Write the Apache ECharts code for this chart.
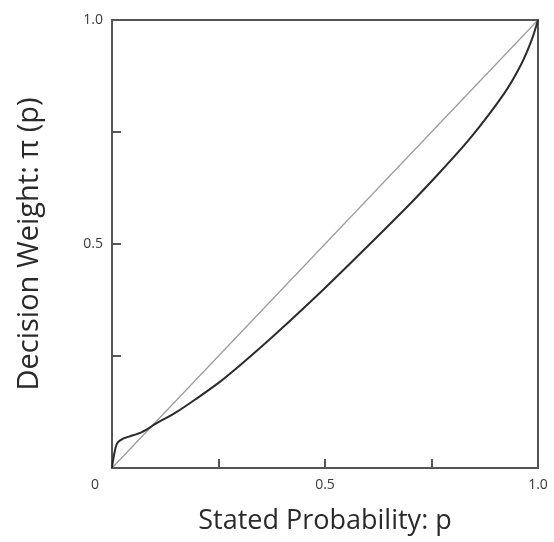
<!DOCTYPE html>
<html lang="en">
<head>
    <meta charset="UTF-8">
    <script src="https://cdn.jsdelivr.net/npm/echarts@6/dist/echarts.min.js"></script>
    <title>Decision Weight</title>
    <style>
        html, body { margin: 0; padding: 0; background: #fff; }
        #main { width: 554px; height: 542px; }
    </style>
</head>
<body>
<div id="main"></div>
<script>
    // stated probability p and decision weight pi(p)
    var probs = [0, 0.005, 0.012, 0.025, 0.04, 0.07, 0.105, 0.15, 0.2, 0.25, 0.3, 0.35,
        0.4, 0.5, 0.6, 0.7, 0.76, 0.84, 0.92, 0.96, 0.985, 1];
    var weights = [0, 0.03, 0.055, 0.065, 0.07, 0.08, 0.1, 0.124, 0.156, 0.19, 0.229, 0.27,
        0.313, 0.402, 0.495, 0.59, 0.65, 0.735, 0.835, 0.9, 0.955, 1];
    // reference diagonal pi(p) = p
    var diagonal = [0, 1];
    var xTickLabels = {'0': '0', '0.5': '0.5', '1': '1.0'};
    var yTickLabels = {'0.5': '0.5', '1': '1.0'};

    var myChart = echarts.init(document.getElementById('main'));

    var curve = [];
    for (var i = 0; i < probs.length; i++) {
        curve.push([probs[i], weights[i]]);
    }
    var diag = [];
    for (var j = 0; j < diagonal.length; j++) {
        diag.push([diagonal[j], diagonal[j]]);
    }

    var font = '"Open Sans", "Noto Sans", sans-serif';

    var option = {
        animation: false,
        grid: {
            left: 112, top: 20, width: 426, height: 448,
            show: true, borderColor: '#555', borderWidth: 2, backgroundColor: '#fff'
        },
        xAxis: {
            type: 'value', min: 0, max: 1, interval: 0.25,
            name: 'Stated Probability: p', nameLocation: 'middle', nameGap: 40,
            nameTextStyle: {fontFamily: font, fontSize: 27, color: '#2a2a2a'},
            axisLine: {show: true, lineStyle: {color: '#555', width: 2}},
            axisTick: {show: true, inside: true, length: 9, lineStyle: {color: '#555', width: 2}},
            splitLine: {show: false},
            axisLabel: {
                margin: 10, fontFamily: font, fontSize: 14, color: '#3a3a3a',
                formatter: function (v) {
                    var t = xTickLabels[String(v)];
                    if (t === undefined) return '';
                    if (v === 0) return '{z|' + t + '}';
                    return t;
                },
                rich: {z: {fontFamily: font, fontSize: 14, color: '#3a3a3a', padding: [0, 34, 0, 0]}}
            }
        },
        yAxis: {
            type: 'value', min: 0, max: 1, interval: 0.25,
            name: 'Decision Weight: \u03c0 (p)', nameLocation: 'middle', nameGap: 68,
            nameTextStyle: {fontFamily: font, fontSize: 29, color: '#2a2a2a'},
            axisLine: {show: true, lineStyle: {color: '#555', width: 2}},
            axisTick: {show: true, inside: true, length: 9, lineStyle: {color: '#555', width: 2}},
            splitLine: {show: false},
            axisLabel: {
                margin: 9, fontFamily: font, fontSize: 14, color: '#3a3a3a',
                formatter: function (v) {
                    var t = yTickLabels[String(v)];
                    return t === undefined ? '' : t;
                }
            }
        },
        series: [
            {
                type: 'line', data: diag, symbol: 'none',
                lineStyle: {color: '#9a9a9a', width: 1.2}
            },
            {
                type: 'line', data: curve, symbol: 'none', smooth: 0.3,
                lineStyle: {color: '#2b2b2b', width: 2}
            }
        ]
    };

    myChart.setOption(option);
</script>
</body>
</html>
